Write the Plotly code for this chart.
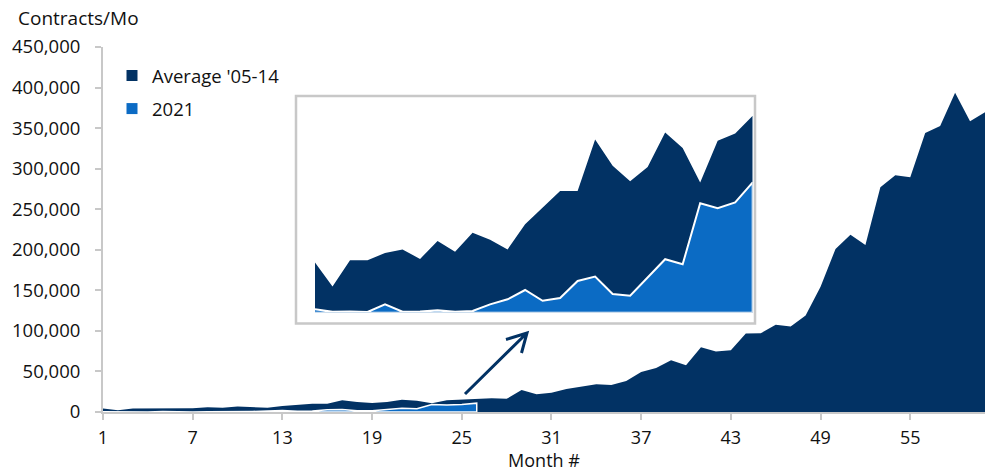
import plotly.graph_objects as go

# ---------------- data ----------------
months = list(range(1, 61))
avg_05_14 = [4200, 2200, 4400, 4400, 5000, 5300, 4500, 6000, 5100, 6700,
             6100, 5300, 7400, 8800, 10200, 10200, 14500, 12300, 11000, 12200,
             15100, 13800, 10900, 14400, 15000, 16500, 17000, 16200, 27000, 21900,
             23800, 28400, 30900, 34200, 33300, 38300, 49400, 54300, 63800, 57600,
             79900, 74500, 76200, 96700, 97000, 107500, 105500, 119000, 154500, 201000,
             218500, 206000, 277000, 292000, 289500, 344000, 352500, 393500, 358500, 369500]
y_2021 = [300, 80, 110, 60, 700, 80, 110, 200, 80, 140,
          700, 1120, 1900, 1000, 1230, 2660, 3020, 1570, 1430, 2940,
          4480, 4060, 9160, 8760, 9240, 10920]
x_tickvals = [1, 7, 13, 19, 25, 31, 37, 43, 49, 55]
y_tickvals = [0, 50000, 100000, 150000, 200000, 250000, 300000, 350000, 400000, 450000]
series_names = ["Average '05-14", "2021"]

# ---------------- style ----------------
W, H = 988, 472
ML, MR, MT, MB = 103, 3, 47, 60
NAVY = "#023264"
BLUE = "#0B6BC4"
GRAY = "#c8c8c8"
FONT = "Open Sans"
TXT = "#111111"

PW = W - ML - MR
PH = H - MT - MB


def px(x):
    return (x - ML) / PW


def py(y):
    return (H - MB - y) / PH


n21 = len(y_2021)
m21 = months[:n21]

fig = go.Figure()

# main chart
fig.add_trace(go.Scatter(x=months, y=avg_05_14, mode="lines", fill="tozeroy",
                         line=dict(width=0, color=NAVY), fillcolor=NAVY,
                         showlegend=False, hoverinfo="skip"))
fig.add_trace(go.Scatter(x=m21 + [m21[-1], m21[0]], y=y_2021 + [0, 0], mode="lines",
                         fill="toself", line=dict(width=1.5, color="white"),
                         fillcolor=BLUE, showlegend=False, hoverinfo="skip"))

# inset (zoom on first months)
fig.add_trace(go.Scatter(x=m21, y=avg_05_14[:n21], mode="lines", fill="tozeroy",
                         line=dict(width=0, color=NAVY), fillcolor=NAVY,
                         xaxis="x2", yaxis="y2", showlegend=False, hoverinfo="skip"))
fig.add_trace(go.Scatter(x=m21 + [m21[-1], m21[0]], y=y_2021 + [0, 0], mode="lines",
                         fill="toself", line=dict(width=2, color="white"),
                         fillcolor=BLUE, xaxis="x2", yaxis="y2",
                         showlegend=False, hoverinfo="skip"))

# legend entries
for name, col in zip(series_names, [NAVY, BLUE]):
    fig.add_trace(go.Scatter(x=[None], y=[None], mode="markers", name=name,
                             legendgroup=name,
                             marker=dict(symbol="square", size=11, color=col)))

inset_base_px = 312.7
inset_top_px = 100
inset_peak_px = 115.7
inset_ymax = max(avg_05_14[:n21]) * (inset_base_px - inset_top_px) / (inset_base_px - inset_peak_px)

fig.update_layout(
    width=W, height=H,
    margin=dict(l=ML, r=MR, t=MT, b=MB),
    paper_bgcolor="white", plot_bgcolor="white",
    font=dict(family=FONT, size=18, color=TXT),
    showlegend=True,
    legend=dict(x=px(112), y=py(57), xanchor="left", yanchor="top",
                font=dict(family=FONT, size=18.5, color=TXT),
                bgcolor="rgba(0,0,0,0)", tracegroupgap=6),
    xaxis=dict(range=[1, 60], tickmode="array", tickvals=x_tickvals,
               ticks="outside", ticklen=6, tickcolor=GRAY, tickwidth=2,
               showline=True, linecolor=GRAY, linewidth=2, showgrid=False,
               zeroline=False, ticklabelstandoff=2,
               title=dict(text="Month #", standoff=5, font=dict(size=18)),
               tickfont=dict(size=18)),
    yaxis=dict(range=[0, 450000], tickmode="array", tickvals=y_tickvals,
               tickformat=",", ticks="outside", ticklen=6, tickcolor=GRAY,
               tickwidth=2, showline=True, linecolor=GRAY, linewidth=2,
               showgrid=False, zeroline=False, ticklabelstandoff=11,
               tickfont=dict(size=18.5)),
    xaxis2=dict(domain=[px(315), px(752.7)], range=[1, n21], anchor="y2",
                visible=False),
    yaxis2=dict(domain=[py(inset_base_px), py(inset_top_px)], range=[0, inset_ymax],
                anchor="x2", visible=False),
    shapes=[
        dict(type="rect", xref="paper", yref="paper",
             x0=px(296), x1=px(755), y0=py(323.5), y1=py(96),
             line=dict(color=GRAY, width=2.5), fillcolor="white", layer="below"),
        dict(type="path", xref="paper", yref="paper",
             path=(f"M{px(465)},{py(394)} L{px(527)},{py(333)} "
                   f"M{px(506)},{py(339.5)} L{px(527)},{py(333)} L{px(521.5)},{py(353)}"),
             line=dict(color=NAVY, width=3)),
    ],
    annotations=[
        dict(text="Contracts/Mo", xref="paper", yref="paper",
             x=px(16), y=py(18), xanchor="left", yanchor="middle",
             showarrow=False, font=dict(family=FONT, size=19, color=TXT)),
    ],
)

fig.write_html("out.html")
